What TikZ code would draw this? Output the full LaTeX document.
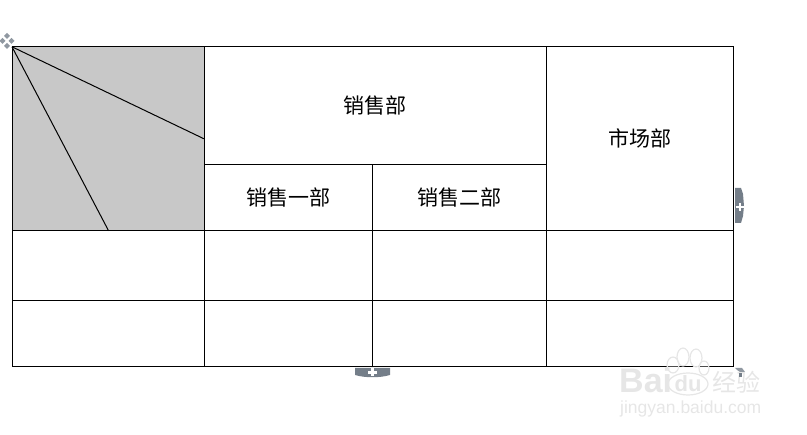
\documentclass[tikz,border=0pt]{standalone}
\usepackage{fontspec}
\newfontfamily\cjk{Noto Sans CJK SC}
\setmainfont{Liberation Sans}
\definecolor{hdl}{HTML}{747E89}
\definecolor{wm}{HTML}{E6E6E6}
\tikzset{
  x=1pt,y=-1pt,
  rule/.style={draw=black,line width=1pt},
  cell/.style={font=\cjk\fontsize{21}{24}\selectfont,inner sep=0pt,text=black},
  handle/.style={fill=hdl,draw=none},
  plus/.style={draw=white,line width=2.2pt},
  mark4/.style={fill=hdl!80,draw=none},
  wmtext/.style={text=wm,inner sep=0pt},
  wmpaw/.style={draw=wm,line width=1.2pt,fill=white,fill opacity=0.3}
}
\begin{document}
\begin{tikzpicture}
\useasboundingbox (0,0) rectangle (807,435);
\begin{scope}[yshift=-0.8pt]
\coordinate (tl) at (12,46);
\coordinate (dr) at (204,138);
\coordinate (db) at (108.6,230);
\fill[fill={rgb,255:red,200;green,200;blue,200}] (12,46) rectangle (204,230);
\draw[rule] (12,46) rectangle (733,366);
\draw[rule] (204,46) -- (204,366);
\draw[rule] (546,46) -- (546,366);
\draw[rule] (372,164) -- (372,366);
\draw[rule] (204,164) -- (546,164);
\draw[rule] (12,230) -- (733,230);
\draw[rule] (12,300) -- (733,300);
\draw[rule] (tl) -- (dr);
\draw[rule] (tl) -- (db);
\node[cell] (sales) at (375,105) {销售部};
\node[cell] (market) at (640,138) {市场部};
\node[cell] (sales1) at (288.5,197) {销售一部};
\node[cell] (sales2) at (459.5,197) {销售二部};
\end{scope}
% move handle
\foreach \a/\b in {7/36,2.5/41,11.5/41,7/46}{
  \fill[mark4] (\a,\b-3) -- (\a+3,\b) -- (\a,\b+3) -- (\a-3,\b) -- cycle;
}
% right handle
\fill[handle] (735,188) -- (741,188) -- (743,194) -- (744,206) -- (743,216) -- (741,223) -- (735,223) -- cycle;
\draw[plus] (735.5,207) -- (744,207);
\draw[plus] (740,203) -- (740,211);
% bottom handle
\fill[handle] (355,368) -- (390,368) -- (390,375) .. controls (380,378) and (365,378) .. (355,375) -- cycle;
\draw[plus] (368,372.5) -- (377,372.5);
\draw[plus] (372.5,368.5) -- (372.5,376.5);
% watermark
\node[wmtext,font=\bfseries\fontsize{34}{34}\selectfont,anchor=west] (wm1) at (619,380) {Bai};
\draw[wmpaw] (688,384) ellipse (20 and 11);
\node[wmtext,font=\bfseries\fontsize{22}{22}\selectfont] (wm2) at (688,384) {du};
\draw[wmpaw] (673,365) ellipse (6 and 8);
\draw[wmpaw] (683,357) ellipse (6 and 9);
\draw[wmpaw] (696,358) ellipse (6 and 9);
\draw[wmpaw] (704,368) ellipse (5 and 7);
\node[wmtext,font=\cjk\fontsize{24}{24}\selectfont,anchor=west] (wm3) at (712,382) {经验};
\node[wmtext,font=\fontsize{17.5}{18}\selectfont,anchor=west] (wm4) at (620,409) {jingyan.baidu.com};
% resize handle
\fill[mark4] (735,368) -- (742,368) -- (745,372) -- (740,372) -- (737,370) -- cycle;
\fill[hdl] (739,373) rectangle (742,377);
\end{tikzpicture}
\end{document}
